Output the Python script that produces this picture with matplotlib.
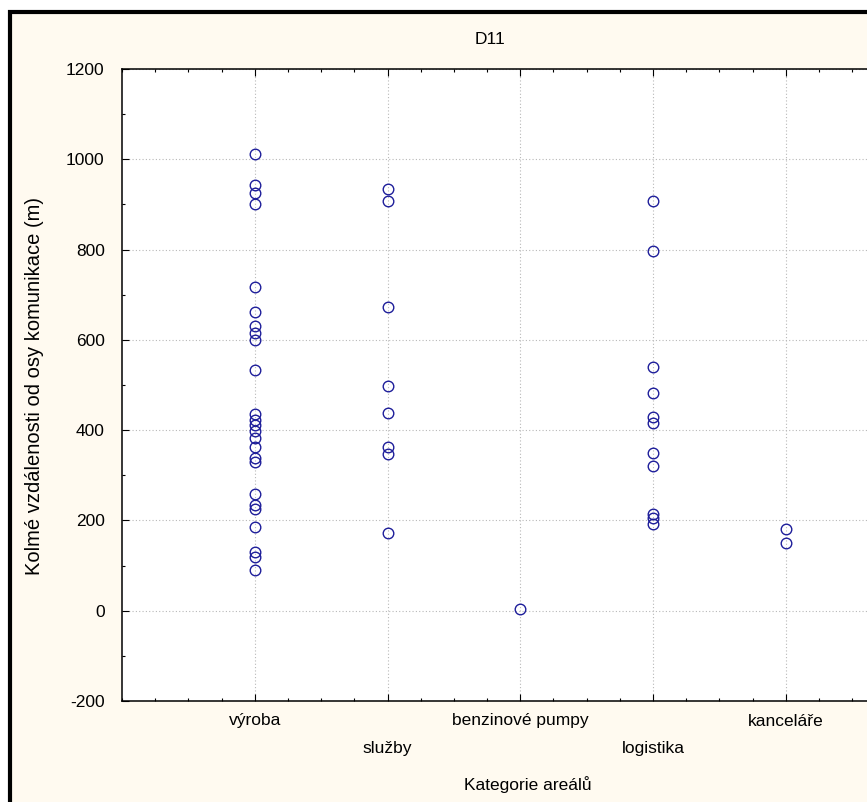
import matplotlib
matplotlib.use("Agg")
import matplotlib.pyplot as plt
import matplotlib.transforms as mtransforms
from matplotlib.patches import Rectangle
from matplotlib.ticker import MultipleLocator

plt.rcParams['font.family'] = ['Liberation Sans', 'DejaVu Sans']
plt.rcParams['axes.unicode_minus'] = False

kategorie = ["výroba", "služby", "benzinové pumpy", "logistika", "kanceláře"]

vyroba = [1012, 942, 925, 902, 717, 662, 630, 616, 600, 533, 436, 422, 412,
          397, 382, 362, 338, 330, 258, 234, 226, 185, 131, 120, 90]
sluzby = [935, 907, 672, 498, 437, 362, 348, 172]
pumpy = [3]
logistika = [908, 797, 540, 482, 430, 415, 350, 320, 215, 205, 193]
kancelare = [182, 150]

hodnoty = [vyroba, sluzby, pumpy, logistika, kancelare]

W, H = 867, 802
fig = plt.figure(figsize=(W / 100, H / 100), dpi=100, facecolor="white")

# ramecek okolo grafu (vpravo a dole oriznuty)
fig.patches.append(Rectangle((10 / W, -0.1), 1.2, (H - 11.5) / H + 0.1,
                             transform=fig.transFigure, facecolor="#fffaf0",
                             edgecolor="black", linewidth=3, zorder=-5))

ax = fig.add_axes([122 / W, (H - 701) / H, 796.5 / W, 632 / H])
ax.set_zorder(2)
ax.set_facecolor("white")

for i, vals in enumerate(hodnoty):
    ax.plot([i + 1] * len(vals), vals, linestyle="none", marker="o",
            markersize=7.6, markerfacecolor="none", markeredgecolor="#1e1e9a",
            markeredgewidth=1.0, zorder=3)

ax.set_xlim(0, 6)
ax.set_ylim(-200, 1200)
ax.yaxis.set_major_locator(MultipleLocator(200))
ax.yaxis.set_minor_locator(MultipleLocator(100))
ax.xaxis.set_minor_locator(MultipleLocator(0.25))
ax.set_xticks(range(1, 6))

for s in ax.spines.values():
    s.set_linewidth(1.1)

ax.tick_params(which="both", direction="in", top=True, right=True,
               labelsize=12.5, colors="black")
ax.tick_params(which="major", length=5, width=0.8)
ax.tick_params(which="minor", length=2.5, width=0.8)
ax.tick_params(axis="y", pad=12.5)
ax.tick_params(axis="x", pad=9)

ax.grid(True, which="major", linestyle=(0, (1, 2)), color="#b8b8b8",
        linewidth=0.8)
ax.set_axisbelow(True)

# popisky kategorii ve dvou radach
ax.set_xticklabels(kategorie)
posun = mtransforms.ScaledTranslation(0, -28 / 100, fig.dpi_scale_trans)
for i, lab in enumerate(ax.get_xticklabels()):
    if i % 2 == 1:
        lab.set_transform(lab.get_transform() + posun)

fig.text(490 / W, (H - 40) / H, "D11", ha="center", va="center", fontsize=12.5)
fig.text(528 / W, (H - 785) / H, "Kategorie areálů", ha="center",
         va="center", fontsize=12.5)
fig.text(35 / W, (H - 386) / H, "Kolmé vzdálenosti od osy komunikace (m)",
         rotation=90, ha="center", va="center", fontsize=14.5)

fig.savefig("out.png", dpi=100, facecolor=fig.get_facecolor())
